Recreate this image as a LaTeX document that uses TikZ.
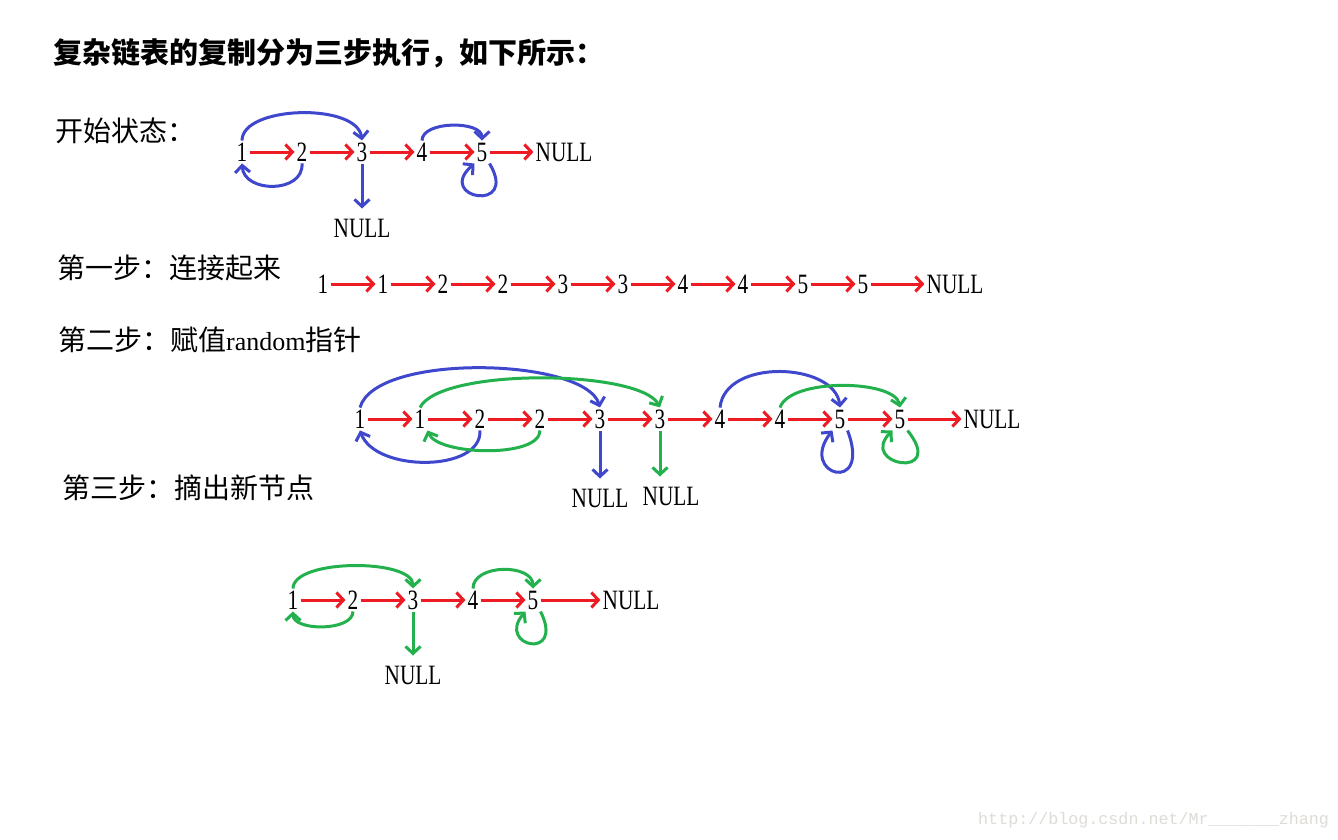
\documentclass[tikz,border=0pt]{standalone}
\usepackage{fontspec}
\setmainfont{Liberation Serif}[FakeStretch=0.76]
\newfontfamily\cjk{Noto Sans CJK SC}
\newfontfamily\romfont{Liberation Serif}
\newfontfamily\wmfont{Liberation Mono}
\usetikzlibrary{arrows.meta, positioning}
\definecolor{nextC}{RGB}{237, 28, 36}
\definecolor{randB}{RGB}{ 63, 72,204}
\definecolor{randG}{RGB}{ 34,177, 76}
\definecolor{wmC}  {RGB}{222,220,214}
\tikzset{
  num/.style   = {inner sep=2pt, font=\fontsize{28}{30}\selectfont},
  nul/.style   = {inner sep=2pt, font=\fontsize{28}{30}\selectfont},
  lbl/.style   = {anchor=west, inner sep=0pt, font=\cjk\fontsize{28}{30}\selectfont},
  ttl/.style   = {anchor=west, inner sep=0pt, font=\cjk\bfseries\fontsize{29}{31}\selectfont},
  nxt/.style   = {-{Straight Barb[length=7pt,width=15pt]}, line width=3pt, color=nextC},
  rndB/.style  = {-{Straight Barb[length=7pt,width=15pt]}, line width=3pt, color=randB},
  rndG/.style  = {-{Straight Barb[length=7pt,width=15pt]}, line width=3pt, color=randG},
  wmark/.style = {anchor=west, inner sep=0pt, text=wmC, font=\wmfont\fontsize{16.7}{18}\selectfont},
}

\begin{document}
\begin{tikzpicture}[x=1pt, y=1pt, node distance=60pt, on grid]
\path[use as bounding box, fill=white] (0,0) rectangle (1338,-840);

% ---- Titles -----------------------------------------------------------------
\node[ttl] (T)  at (53,-53)  {复杂链表的复制分为三步执行，如下所示：};
\node[lbl] (L0) at (55,-131) {开始状态：};
\node[lbl] (L1) at (57,-268) {第一步：连接起来};
\node[lbl] (L2) at (58,-340) {第二步：赋值{\romfont\fontsize{26}{28}\selectfont random}指针};
\node[lbl] (L3) at (62,-488) {第三步：摘出新节点};

% ---- Start state ------------------------------------------------------------
\node[num] (a1) at (242,-152) {1};
\node[num, right=of a1] (a2) {2};
\node[num, right=of a2] (a3) {3};
\node[num, right=of a3] (a4) {4};
\node[num, right=of a4] (a5) {5};
\node[nul, right=82pt of a5] (aN) {NULL};
\node[nul, below=76pt of a3] (aD) {NULL};

% ---- Step 1: copies linked in -----------------------------------------------
\node[num] (b1) at (323,-284) {1};
\foreach \k/\t [remember=\k as \p (initially b1)] in
  {b2/1, b3/2, b4/2, b5/3, b6/3, b7/4, b8/4, b9/5, b10/5}
  \node[num, right=of \p] (\k) {\t};
\node[nul, right=92pt of b10] (bN) {NULL};

% ---- Step 2: random pointers ------------------------------------------------
\node[num] (c1) at (360,-419) {1};
\foreach \k/\t [remember=\k as \p (initially c1)] in
  {c2/1, c3/2, c4/2, c5/3, c6/3, c7/4, c8/4, c9/5, c10/5}
  \node[num, right=of \p] (\k) {\t};
\node[nul, right=92pt of c10] (cN) {NULL};
\node[nul, below=79pt of c5] (cD1) {NULL};
\node[nul, below right=77pt and 11pt of c6] (cD2) {NULL};

% ---- Step 3: new list -------------------------------------------------------
\node[num] (d1) at (293,-600) {1};
\node[num, right=of d1] (d2) {2};
\node[num, right=of d2] (d3) {3};
\node[num, right=of d3] (d4) {4};
\node[num, right=of d4] (d5) {5};
\node[nul, right=98pt of d5] (dN) {NULL};
\node[nul, below=75pt of d3] (dD) {NULL};

% ---- Next pointers ----------------------------------------------------------
\foreach \u/\v in {a1/a2, a2/a3, a3/a4, a4/a5, a5/aN,
                   b1/b2, b2/b3, b3/b4, b4/b5, b5/b6, b6/b7, b7/b8, b8/b9, b9/b10, b10/bN,
                   c1/c2, c2/c3, c3/c4, c4/c5, c5/c6, c6/c7, c7/c8, c8/c9, c9/c10, c10/cN,
                   d1/d2, d2/d3, d3/d4, d4/d5, d5/dN}
  \draw[nxt] (\u) -- (\v);

% ---- Random pointers: start state -------------------------------------------
\draw[rndB] (a1.north) .. controls +(0,35) and +(-5,38) .. (a3.north);
\draw[rndB] (a2.south) .. controls +(2,-30) and +(2,-30) .. (a1.south);
\draw[rndB, shorten >=8pt] (a3.south) -- (aD.north);
\draw[rndB] (a4.north) .. controls +(0,20) and +(0,20) .. (a5.north);
\draw[rndB] (a5.south east) .. controls +(30,-50) and +(-40,-35) .. (a5.south west);

% ---- Random pointers: step 2 ------------------------------------------------
\draw[rndB] (c1.north) .. controls +(15,55) and +(-15,50) .. (c5.north);
\draw[rndG] (c2.north) .. controls +(20,40) and +(-20,38) .. (c6.north);
\draw[rndB] (c3.south) .. controls +(2,-42) and +(15,-42) .. (c1.south);
\draw[rndG] (c4.south) .. controls +(0,-28) and +(10,-25) .. (c2.south east);
\draw[rndB, shorten >=8pt] (c5.south) -- (cD1.north);
\draw[rndG, shorten >=8pt] (c6.south) -- (c6.south |- cD2.north);
\draw[rndB] (c7.north) .. controls +(5,50) and +(-5,45) .. (c9.north);
\draw[rndG] (c8.north) .. controls +(10,30) and +(-5,28) .. (c10.north);
\draw[rndB] (c9.south east) .. controls +(25,-65) and +(-35,-45) .. (c9.south west);
\draw[rndG] (c10.south east) .. controls +(40,-50) and +(-35,-35) .. (c10.south west);

% ---- Random pointers: step 3 ------------------------------------------------
\draw[rndG] (d1.north) .. controls +(0,30) and +(0,30) .. (d3.north);
\draw[rndG] (d2.south) .. controls +(0,-20) and +(0,-20) .. (d1.south);
\draw[rndG, shorten >=8pt] (d3.south) -- (dD.north);
\draw[rndG] (d4.north) .. controls +(0,25) and +(0,25) .. (d5.north);
\draw[rndG] (d5.south east) .. controls +(25,-50) and +(-30,-35) .. (d5.south west);

% ---- Watermark --------------------------------------------------------------
\node[wmark] (W) at (978,-820) {http://blog.csdn.net/Mr\_\_\_\_\_\_\_zhang};

\end{tikzpicture}
\end{document}
